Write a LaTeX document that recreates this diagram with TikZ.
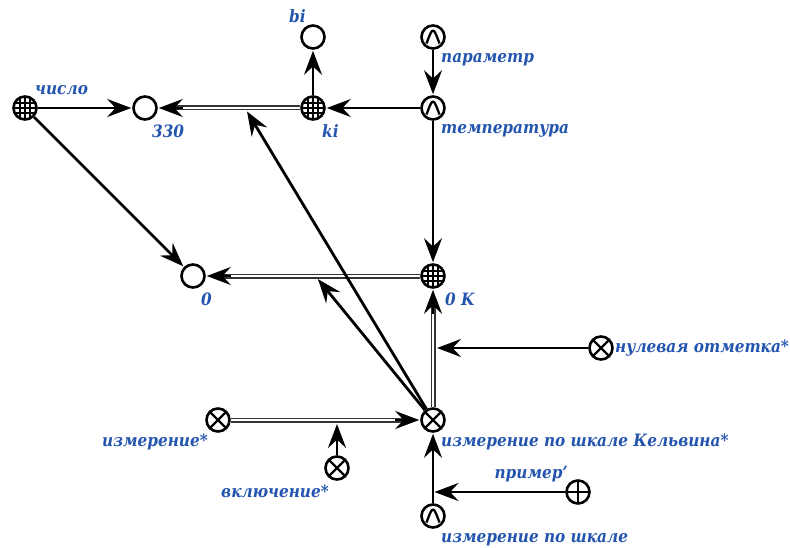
\documentclass[tikz,border=0pt]{standalone}
\usepackage{fontspec}
\setmainfont{DejaVu Serif Condensed}
\usetikzlibrary{arrows.meta,calc}
\definecolor{lbl}{RGB}{35,85,175}
\tikzset{
  base/.style={circle, draw, line width=2.6pt, minimum size=23pt, inner sep=0pt, fill=white},
  plain/.style={base},
  gridn/.style={base, path picture={
      \foreach \d in {-5,0,5}{
        \draw[line width=1.1pt] ([xshift=\d pt]path picture bounding box.north) -- ([xshift=\d pt]path picture bounding box.south);
        \draw[line width=1.1pt] ([yshift=\d pt]path picture bounding box.west) -- ([yshift=\d pt]path picture bounding box.east);
      }}},
  otim/.style={base, path picture={
      \draw[line width=2.3pt] (path picture bounding box.north west) -- (path picture bounding box.south east);
      \draw[line width=2.3pt] (path picture bounding box.north east) -- (path picture bounding box.south west);}},
  oplu/.style={base, path picture={
      \draw[line width=2.3pt] (path picture bounding box.north) -- (path picture bounding box.south);
      \draw[line width=2.3pt] (path picture bounding box.west) -- (path picture bounding box.east);}},
  caret/.style={base, path picture={
      \draw[line width=2.3pt, line join=round] ([shift={(-6.5pt,-6.5pt)}]path picture bounding box.center)
        .. controls ([shift={(-3pt,3pt)}]path picture bounding box.center) and ([shift={(-1.5pt,6.5pt)}]path picture bounding box.center) ..
        ([shift={(0pt,6.5pt)}]path picture bounding box.center)
        .. controls ([shift={(1.5pt,6.5pt)}]path picture bounding box.center) and ([shift={(3pt,3pt)}]path picture bounding box.center) ..
        ([shift={(6.5pt,-6.5pt)}]path picture bounding box.center);}},
  lab/.style={text=lbl, font=\bfseries\itshape\fontsize{17}{19}\selectfont, inner sep=0pt},
  arr/.style={line width=2.8pt, -{Stealth[length=20pt 0,width=15pt 0,inset=7pt 0,scale=1.2]}, shorten >=1pt},
  dbl/.style={draw=black!80, line width=1.5pt, double=white, double distance=2pt},
}
\begin{document}
\begin{tikzpicture}[x=1pt,y=-1pt]
\useasboundingbox (0,0) rectangle (790,548);
% nodes
\node[plain] (bi) at (313,37) {};
\node[caret] (param) at (433,37) {};
\node[gridn] (chislo) at (25,108) {};
\node[plain] (n330) at (145,108) {};
\node[gridn] (ki) at (313,108) {};
\node[caret] (temp) at (433,108) {};
\node[plain] (n0) at (193,276) {};
\node[gridn] (n0K) at (433,276) {};
\node[otim] (nul) at (601,348) {};
\node[otim] (izm) at (218,420) {};
\node[otim] (kelvin) at (433,420) {};
\node[otim] (vkl) at (337,468) {};
\node[oplu] (primer) at (578,492) {};
\node[caret] (scale) at (433,516) {};
% labels
\node[lab, anchor=west] (lbi) at (289,16) {bi};
\node[lab, anchor=west] (lparam) at (441,60) {параметр};
\node[lab, anchor=west] (ltemp) at (441,131) {температура};
\node[lab, anchor=west] (lchislo) at (35,90) {число};
\node[lab, anchor=west] (l330) at (152,131) {330};
\node[lab, anchor=west] (lki) at (322,131) {ki};
\node[lab, anchor=west] (l0) at (201,299) {0};
\node[lab, anchor=west] (l0K) at (445,299) {0 K};
\node[lab, anchor=west] (lnul) at (615,348) {нулевая отметка*};
\node[lab, anchor=east] (lizm) at (208,442) {измерение*};
\node[lab, anchor=west] (lkel) at (441,442) {измерение по шкале Кельвина*};
\node[lab, anchor=east] (lvkl) at (329,491) {включение*};
\node[lab, anchor=east] (lprimer) at (568,474) {пример'};
\node[lab, anchor=west] (lscale) at (441,540) {измерение по шкале};
% coordinates on edges
\coordinate (e330) at ($(ki)!0.405!(n330)$);
\coordinate (e0) at ($(n0K)!0.49!(n0)$);
\coordinate (ekz) at ($(n0K)!(nul)!(kelvin)$);
\coordinate (eiz) at ($(izm)!(vkl)!(kelvin)$);
\coordinate (esc) at ($(kelvin)!(primer)!(scale)$);
% single edges
\draw[arr] (param) -- (temp);
\draw[arr] (temp) -- (ki);
\draw[arr] (ki) -- (bi);
\draw[arr] (chislo) -- (n330);
\draw[arr] (chislo) -- (n0);
\draw[arr] (temp) -- (n0K);
% double edges
\draw[dbl, shorten >=16pt] (ki) -- (n330);
\draw[arr] ($(n330.east)+(25pt,0)$) -- (n330.east);
\draw[dbl, shorten >=16pt] (n0K) -- (n0);
\draw[arr] ($(n0.east)+(25pt,0)$) -- (n0.east);
\draw[dbl, shorten >=16pt] (kelvin) -- (n0K);
\draw[arr] ($(n0K.south)+(0,-25pt)$) -- (n0K.south);
\draw[dbl, shorten >=16pt] (izm) -- (kelvin);
\draw[arr] ($(kelvin.west)+(-25pt,0)$) -- (kelvin.west);
% edges to edges
\draw[arr, shorten >=4pt] (kelvin) -- (e330);
\draw[arr, shorten >=4pt] (kelvin) -- (e0);
\draw[arr, shorten >=4pt] (nul) -- (ekz);
\draw[arr, shorten >=4pt] (vkl) -- (eiz);
\draw[arr] (scale) -- (kelvin);
\draw[arr, shorten >=1.5pt] (primer) -- (esc);
\end{tikzpicture}
\end{document}
